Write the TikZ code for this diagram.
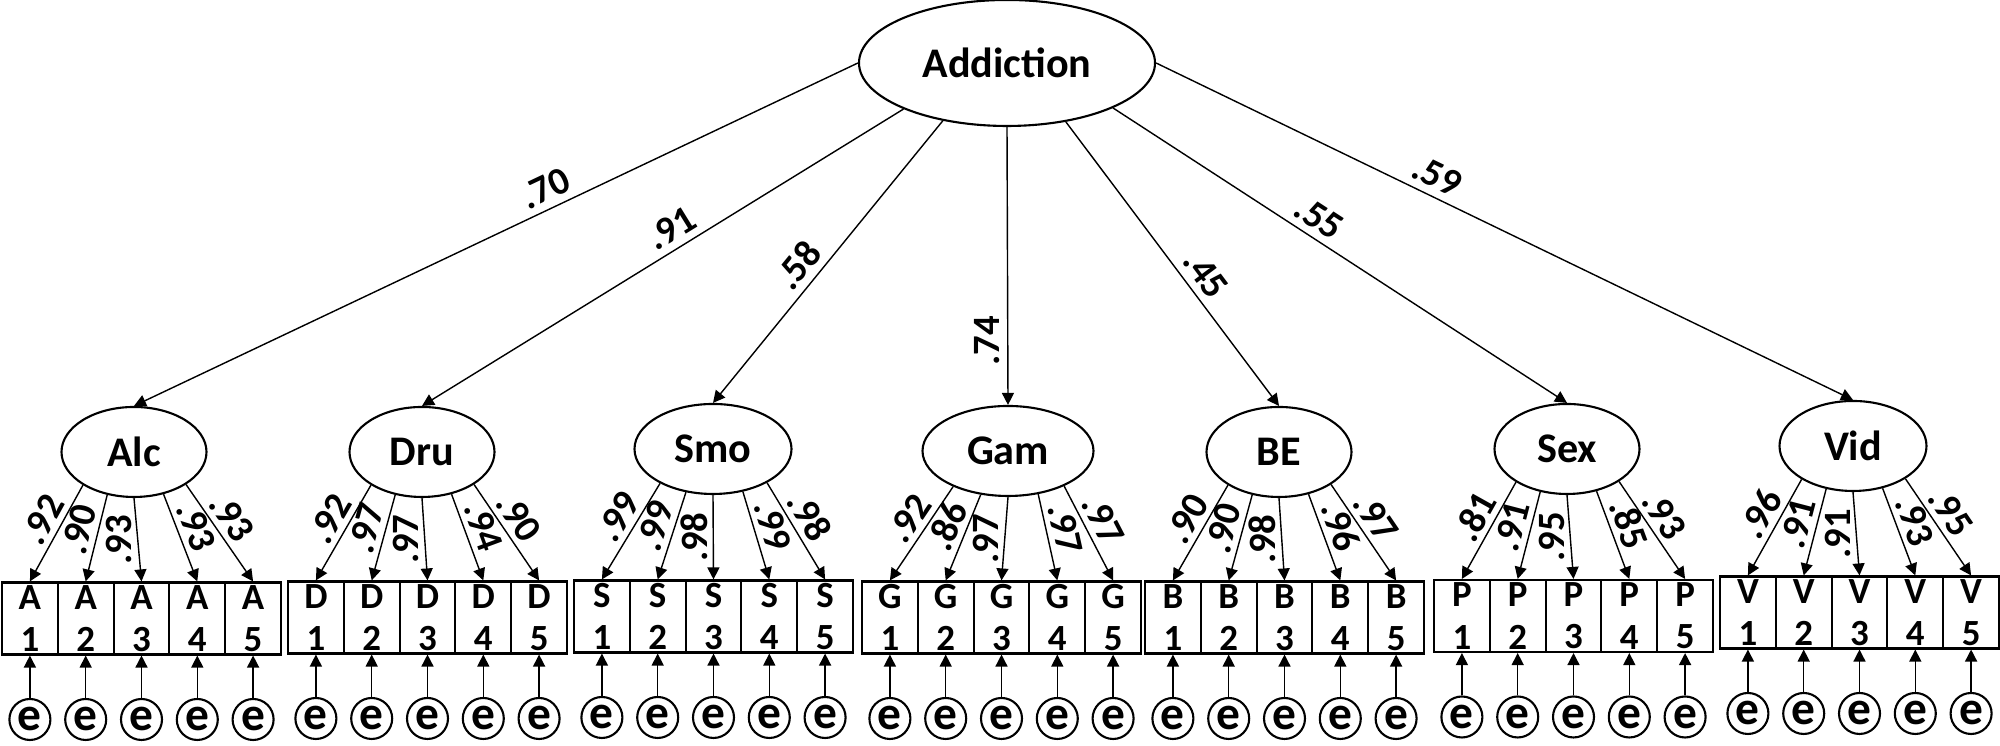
\documentclass[tikz,border=0pt]{standalone}
\usepackage{fontspec}
\setmainfont{Carlito}
\usetikzlibrary{arrows.meta,shapes.geometric}

\tikzset{
	latent/.style={draw, ellipse, line width=0.6pt, inner sep=0pt,
		minimum height=0.9cm, font=\fontsize{12}{14}\selectfont\bfseries},
	item/.style={draw, rectangle, line width=0.6pt, inner sep=0pt,
		minimum width=0.558cm, minimum height=0.72cm, align=center,
		font=\fontsize{10.5}{12}\selectfont\bfseries},
	err/.style={draw, circle, line width=0.6pt, inner sep=0pt,
		minimum size=0.41cm, font=\fontsize{13.5}{15}\selectfont\bfseries},
	path/.style={-{Triangle[length=1.2mm,width=1.2mm]}, line width=0.4pt},
	topload/.style={sloped, above, inner sep=2pt, font=\fontsize{11}{13}\selectfont\bfseries},
	sideload/.style={sloped, above, pos=.45, inner sep=1.5pt, font=\fontsize{11}{12}\selectfont\bfseries},
	midload/.style={rotate=90, above, inner sep=1.5pt, font=\fontsize{11}{12}\selectfont\bfseries}
}

\begin{document}
\begin{tikzpicture}
	\useasboundingbox (0,0) rectangle (20,7.46);
	\node[latent, minimum width=2.96cm, minimum height=1.26cm] (add) at (10.07,6.83) {Addiction};
	% the seven factors with their items and errors
	\foreach \g/\name/\ltr/\x/\y/\w/\bl/\by/\ld in {
		alc/Alc/A/1.34/2.94/1.45/0.02/1.275/{.92,.90,.93,.93,.93},
		dru/Dru/D/4.22/2.94/1.45/2.88/1.285/{.92,.97,.97,.94,.90},
		smo/Smo/S/7.13/2.97/1.57/5.74/1.295/{.99,.99,.98,.99,.98},
		gam/Gam/G/10.08/2.95/1.71/8.62/1.285/{.92,.86,.97,.97,.97},
		bes/BE/B/12.79/2.94/1.45/11.45/1.285/{.90,.90,.98,.96,.97},
		sex/Sex/P/15.67/2.97/1.45/14.34/1.30/{.81,.91,.95,.85,.93},
		vid/Vid/V/18.53/3.00/1.47/17.20/1.335/{.96,.91,.91,.93,.95}} {
		\node[latent, minimum width=\w cm] (\g) at (\x,\y) {\name};
		\foreach \v [count=\i] in \ld {
			\pgfmathsetmacro\bx{\bl+(\i-0.5)*0.558}
			\pgfmathtruncatemacro\ang{{213,238,270,305,328}[\i-1]}
			\node[item] (\g\i) at (\bx,\by) {\ltr\\\i};
			\node[err] (e\g\i) at (\bx,\by-1.01) {e};
			\draw[path] (e\g\i) -- (\g\i);
			\ifnum\i=3
				\draw[path] (\g.\ang) -- node[midload, pos=.5] {\v} (\g\i.north);
			\else
				\draw[path] (\g.\ang) -- node[sideload] {\v} (\g\i.north);
			\fi
		}
	}
	% second order loadings
	\draw[path] (add.west) -- node[topload, pos=.42] {.70} (alc.north);
	\draw[path] (add.204) -- node[topload, pos=.46] {.91} (dru.north);
	\draw[path] (add.222) -- node[topload, pos=.56] {.58} (smo.north);
	\draw[path] (add.south) -- node[midload, pos=.77, inner sep=2pt] {.74} (gam.north);
	\draw[path] (add.315) -- node[topload, pos=.58] {.45} (bes.north);
	\draw[path] (add.337) -- node[topload, pos=.43] {.55} (sex.north);
	\draw[path] (add.east) -- node[topload, pos=.39] {.59} (vid.north);
\end{tikzpicture}
\end{document}
